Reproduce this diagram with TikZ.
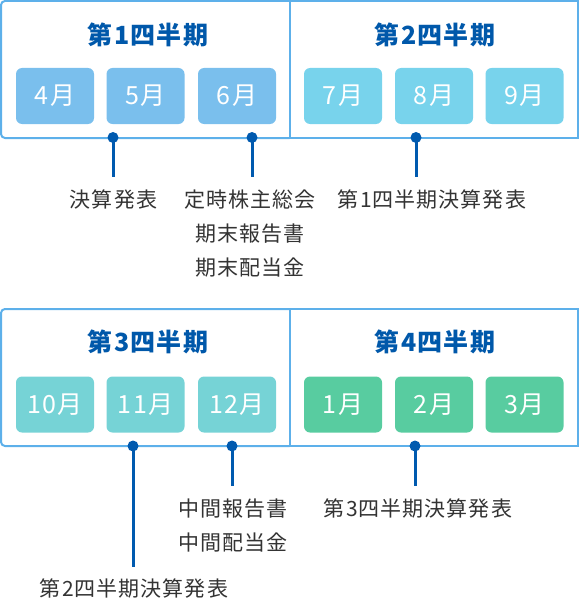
\documentclass[tikz,border=0pt]{standalone}
\usepackage{fontspec}
\setmainfont{Noto Sans CJK JP}
\newfontfamily\spacedfont[LetterSpace=5]{Noto Sans CJK JP}
\usetikzlibrary{positioning}

\definecolor{frameblue}{RGB}{93,176,234}
\definecolor{titleblue}{RGB}{0,88,170}
\definecolor{pinblue}{RGB}{0,90,175}
\definecolor{qone}{RGB}{122,191,237}
\definecolor{qtwo}{RGB}{120,211,236}
\definecolor{qthree}{RGB}{118,211,214}
\definecolor{qfour}{RGB}{88,204,160}
\definecolor{labelgray}{RGB}{51,51,51}

\tikzset{
  frame/.style={draw=frameblue, line width=2pt},
  month/.style={rounded corners=6pt, minimum width=78pt, minimum height=56pt,
    text=white, inner sep=0pt, font=\spacedfont\fontsize{25}{25}\selectfont},
  qtitle/.style={text=titleblue, inner sep=0pt,
    font=\spacedfont\fontsize{25}{25}\selectfont\bfseries},
  pin/.style={draw=pinblue, line width=3pt},
  event/.style={text=labelgray, inner sep=0pt, align=center,
    font=\spacedfont\fontsize{21}{34}\selectfont}
}

\begin{document}
\begin{tikzpicture}[x=1pt, y=-1pt]
  \useasboundingbox (0,0) rectangle (580,599);

  % upper half: first and second quarter
  \draw[frame, rounded corners=4pt] (289.5,1) -- (1,1) -- (1,138) -- (289.5,138);
  \draw[frame] (289.5,1) rectangle (578,138);
  \node[qtitle] (t1) at (148,35) {第1四半期};
  \node[qtitle] (t2) at (435,35) {第2四半期};
  \node[month, fill=qone] (m4) at (55,96) {4月};
  \node[month, fill=qone] (m5) at (145.5,96) {5月};
  \node[month, fill=qone] (m6) at (237,96) {6月};
  \node[month, fill=qtwo] (m7) at (343,96) {7月};
  \node[month, fill=qtwo] (m8) at (434,96) {8月};
  \node[month, fill=qtwo] (m9) at (524.5,96) {9月};

  % lower half: third and fourth quarter
  \draw[frame, rounded corners=4pt] (289.5,309) -- (1,309) -- (1,446) -- (289.5,446);
  \draw[frame] (289.5,309) rectangle (578,446);
  \node[qtitle] (t3) at (148,342) {第3四半期};
  \node[qtitle] (t4) at (435,342) {第4四半期};
  \node[month, fill=qthree] (m10) at (55,404.5) {10月};
  \node[month, fill=qthree] (m11) at (145.5,404.5) {11月};
  \node[month, fill=qthree] (m12) at (237,404.5) {12月};
  \node[month, fill=qfour] (m1) at (343,404.5) {1月};
  \node[month, fill=qfour] (m2) at (434,404.5) {2月};
  \node[month, fill=qfour] (m3) at (524.5,404.5) {3月};

  % events
  \node[event] (e5) at (113.5,200) {決算発表};
  \node[event] (e6) at (250,234) {定時株主総会\\期末報告書\\期末配当金};
  \node[event] (e8) at (432,200) {第1四半期決算発表};
  \node[event] (e11) at (134,589) {第2四半期決算発表};
  \node[event] (e12) at (233,525.5) {中間報告書\\中間配当金};
  \node[event] (e2) at (418,509) {第3四半期決算発表};

  % pins
  \coordinate (p5) at (113,137.5);
  \coordinate (p6) at (252,137.5);
  \coordinate (p8) at (416,137.5);
  \coordinate (p11) at (133,446);
  \coordinate (p12) at (232,446);
  \coordinate (p2) at (415,446);
  \coordinate (q5) at (113,177);
  \coordinate (q6) at (252,177);
  \coordinate (q8) at (416,177);
  \coordinate (q11) at (133,567);
  \coordinate (q12) at (232,486);
  \coordinate (q2) at (415,486);
  \draw[pin] (p5) -- (q5);
  \draw[pin] (p6) -- (q6);
  \draw[pin] (p8) -- (q8);
  \draw[pin] (p11) -- (q11);
  \draw[pin] (p12) -- (q12);
  \draw[pin] (p2) -- (q2);
  \fill[pinblue] (p5) circle (5.5pt) (p6) circle (5.5pt) (p8) circle (5.5pt);
  \fill[pinblue] (p11) circle (5.5pt) (p12) circle (5.5pt) (p2) circle (5.5pt);
\end{tikzpicture}
\end{document}
